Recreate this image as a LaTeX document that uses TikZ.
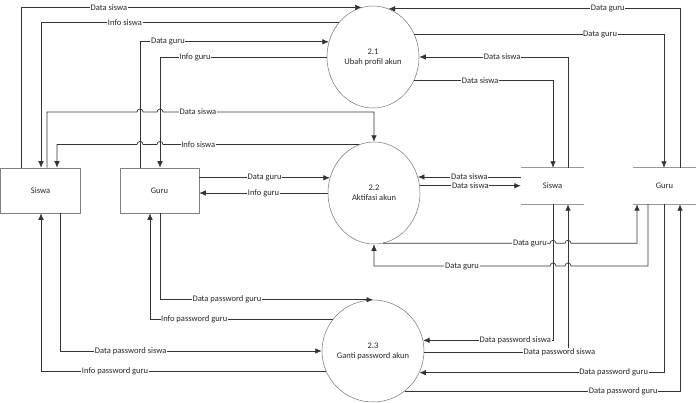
\documentclass[tikz,border=0pt]{standalone}
\usepackage{fontspec}
\setmainfont{Carlito}
\usetikzlibrary{arrows.meta,shapes.geometric}

\newcommand{\dfdfont}{\fontsize{8.5}{10}\selectfont}

\tikzset{
  ext/.style={draw=black!50, line width=0.6pt, minimum width=80pt, minimum height=45pt, inner sep=0pt, font=\dfdfont, text=black!85},
  proc/.style={ellipse, draw=black!55, line width=0.5pt, minimum width=92pt, minimum height=102pt, inner sep=0pt, align=center, font=\dfdfont, text=black!85},
  store/.style={minimum width=63pt, minimum height=36pt, inner sep=0pt, font=\dfdfont, text=black!85},
  storeline/.style={draw=black!40, line width=1.3pt},
  flow/.style={draw=black!80, line width=0.7pt},
  lbl/.style={fill=white, inner sep=0.6pt, font=\dfdfont, text=black!85},
}

\begin{document}
\begin{tikzpicture}[x=1pt, y=-1pt, >={Latex[length=6.5pt,width=5.5pt]}]

\useasboundingbox (0,0) rectangle (696,402);

\node[ext] (sisE) at (40.5,190.5) {Siswa};
\node[ext, minimum width=79pt] (guruE) at (159.5,190.5) {Guru};

\node[proc] (p21) at (373,57) {2.1\\Ubah profil akun};
\node[proc] (p22) at (374,193) {2.2\\Aktifasi akun};
\node[proc] (p23) at (373,351) {2.3\\Ganti password akun};

\node[store] (sisD) at (552.5,186) {Siswa};
\node[store] (guruD) at (664.5,186) {Guru};
\draw[storeline] (sisD.north west) -- (sisD.north east) (sisD.south west) -- (sisD.south east);
\draw[storeline] (guruD.north west) -- (guruD.north east) (guruD.south west) -- (guruD.south east);

\draw[flow,->] (sisE.north -| 21,0) |- node[lbl,pos=0.629]{Data siswa} (p21.103);
\draw[flow,->] (p21.135) -| node[lbl,pos=0.359]{Info siswa} (sisE.north -| 41,0);
\draw[flow,->] (guruE.north -| 140,0) |- node[lbl,pos=0.574]{Data guru} (p21.161);
\draw[flow,->] (p21.west) -| node[lbl,pos=0.395]{Info guru} (guruE.north -| 160,0);

\draw[flow,->] (sisE.north -| 47,0) -- (47,112) -- (137,112) arc[start angle=180,end angle=0,radius=3pt]
  -- (157,112) arc[start angle=180,end angle=0,radius=3pt] -| node[lbl,pos=0.083]{Data siswa} (p22.north);
\draw[flow,->] (p22.107) -- node[lbl,pos=0.82]{Info siswa} (p22.107 -| 163,0) arc[start angle=0,end angle=180,radius=3pt]
  -- (p22.107 -| 143,0) arc[start angle=0,end angle=180,radius=3pt] -| (sisE.north -| 57,0);
\draw[flow,->] (guruE.east |- p22.161) -- node[lbl,pos=0.5]{Data guru} (p22.161);
\draw[flow,->] (p22.west) -- node[lbl]{Info guru} (guruE.east |- p22.west);

\draw[flow,->] (guruD.north -| 680,0) |- node[lbl,pos=0.624]{Data guru} (p21.72);
\draw[flow,->] (p21.29) -| node[lbl,pos=0.372]{Data guru} (guruD.north -| 664,0);
\draw[flow,->] (sisD.north -| 568,0) |- node[lbl,pos=0.721]{Data siswa} (p21.east);
\draw[flow,->] (p21.330) -| node[lbl,pos=0.238]{Data siswa} (sisD.north -| 553,0);

\draw[flow,->] (sisD.west |- p22.20) -- node[lbl,pos=0.5]{Data siswa} (p22.20);
\draw[flow,->] (p22.9) -- node[lbl]{Data siswa} (sisD.west |- p22.9);

\draw[flow,->] (p22.280) -- node[lbl,pos=0.88]{Data guru} (p22.280 -| 550,0) arc[start angle=180,end angle=0,radius=3pt]
  -- (p22.280 -| 565,0) arc[start angle=180,end angle=0,radius=3pt] -| (guruD.south -| 637,0);
\draw[flow,->] (guruD.south -| 648,0) -- (648,266) -- (571,266) arc[start angle=0,end angle=180,radius=3pt]
  -- (556,266) arc[start angle=0,end angle=180,radius=3pt] -| node[lbl,pos=0.25]{Data guru} (p22.south);

\draw[flow,->] (sisD.south -| 553,0) |- node[lbl,pos=0.645]{Data password siswa} (p23.12);
\draw[flow,->] (p23.359) -| node[lbl,pos=0.47]{Data password siswa} (sisD.south -| 568,0);
\draw[flow,->] (guruD.south -| 664,0) |- node[lbl,pos=0.603]{Data password guru} (p23.335);
\draw[flow,->] (p23.308) -| node[lbl,pos=0.397]{Data password guru} (guruD.south -| 680,0);

\draw[flow,->] (guruE.south -| 160,0) |- node[lbl,pos=0.657]{Data password guru} (p23.north);
\draw[flow,->] (p23.142) -| node[lbl,pos=0.379]{Info password guru} (guruE.south -| 150,0);
\draw[flow,->] (sisE.south -| 60,0) |- node[lbl,pos=0.635]{Data password siswa} (p23.west);
\draw[flow,->] (p23.203) -| node[lbl,pos=0.37]{Info password guru} (sisE.south -| 41,0);

\end{tikzpicture}
\end{document}
